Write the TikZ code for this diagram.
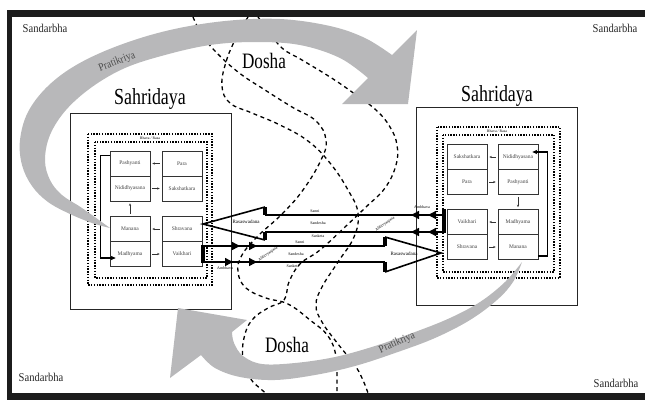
\documentclass[tikz,border=0pt]{standalone}
\usepackage{fontspec}
\setmainfont{Liberation Serif}
\newfontfamily\narrowserif[FakeStretch=0.78]{Liberation Serif}
\newfontfamily\midserif[FakeStretch=0.88]{Liberation Serif}
\usetikzlibrary{arrows.meta,decorations.markings}
\definecolor{bandgray}{RGB}{184,184,186}
\definecolor{framegray}{RGB}{28,28,28}
\begin{document}
\begin{tikzpicture}[x=1pt,y=-1pt,
  cell/.style={draw=black!80, line width=0.7pt, minimum width=40pt, minimum height=25pt,
    inner sep=0pt, font=\fontsize{5.5}{6}\selectfont, text=black!75},
  outerbox/.style={draw=black!85, line width=1pt},
  dotbox/.style={draw=black, line width=1.6pt, dash pattern=on 1.4pt off 1.4pt},
  inarrow/.style={draw=black!80, line width=0.5pt, shorten <=2pt, shorten >=2pt,
    -{Stealth[length=2.5pt,width=2.2pt]}},
  loopline/.style={draw=black, line width=1.4pt, -{Stealth[length=5pt,width=4.5pt]}},
  hollow/.style={draw=black, line width=1.6pt, line join=miter},
  bar/.style={draw=black, line width=3.5pt},
  shaft/.style={draw=black, line width=1.4pt},
  dosha/.style={draw=black, line width=1.3pt, dash pattern=on 4pt off 3.5pt},
  band/.style={fill=bandgray},
  tiny/.style={font=\fontsize{4}{4.5}\selectfont, inner sep=0.5pt},
  rasa/.style={font=\fontsize{5}{5.5}\selectfont, inner sep=0.5pt},
  ctx/.style={font=\midserif\fontsize{12}{12}\selectfont, text=black!85},
  bigname/.style={font=\narrowserif\fontsize{23}{23}\selectfont, anchor=base},
  flaw/.style={font=\narrowserif\fontsize{22}{22}\selectfont, anchor=base},
  reply/.style={font=\midserif\fontsize{11}{11}\selectfont, text=black!70},
  leftheads/.style={postaction={decorate, decoration={markings,
    mark=at position 16pt with {\arrow{Triangle[length=8pt,width=8pt]}},
    mark=at position 33pt with {\arrow{Triangle[length=8pt,width=8pt]}}}}},
  rightheadsA/.style={postaction={decorate, decoration={markings,
    mark=at position 37pt with {\arrow{Triangle[length=8pt,width=8pt]}},
    mark=at position 54pt with {\arrow{Triangle[length=8pt,width=8pt]}}}}},
  rightheadsB/.style={postaction={decorate, decoration={markings,
    mark=at position 30pt with {\arrow{Triangle[length=8pt,width=8pt]}},
    mark=at position 54pt with {\arrow{Triangle[length=8pt,width=8pt]}}}}}
]
\useasboundingbox (0,0) rectangle (645,400);

% ---- page frame ----
\fill[framegray] (7,10) rectangle (645,17);
\fill[framegray] (7,10) rectangle (12,400);
\fill[framegray] (7,393) rectangle (645,400);

% ---- Dosha: three dashed strands ----
\draw[dosha] plot[smooth, tension=0.7] coordinates {(193,17) (201,33) (214,50) (238,72) (265,90) (292,107) (316,121) (326,140) (321,160) (303,190) (282,214) (258,236) (242,255) (238,272) (246,288) (266,298) (288,304) (310,320) (328,336) (336,356) (337,378) (337,393)};
\draw[dosha] plot[smooth, tension=0.7] coordinates {(248,17) (236,38) (226,62) (222,86) (230,103) (252,113) (280,125) (308,141) (330,163) (348,190) (358,213) (354,237) (338,262) (322,287) (316,305) (322,322) (338,344) (354,364) (362,378) (368,393)};
\draw[dosha] plot[smooth, tension=0.7] coordinates {(258,17) (268,30) (282,48) (302,60) (330,77) (352,92) (376,110) (390,127) (397,145) (396,165) (385,188) (366,207) (345,227) (320,250) (300,264) (289,282) (284,300) (268,308) (252,320) (244,338) (243,360) (250,378) (262,390) (266,393)};

% ---- the two Sahridaya frames ----
\draw[outerbox] (70,113) rectangle (231,309);
\draw[outerbox] (416,107) rectangle (577,305);
\draw[dotbox] (88,134) rectangle (212,285);
\draw[dotbox] (95,142) rectangle (207,278);
\draw[dotbox] (437,127) rectangle (560,278);
\draw[dotbox] (443,135) rectangle (554,272);
\node[tiny, fill=white, font=\fontsize{3.8}{4}\selectfont] (LBR) at (150,138) {Bhava / Rasa};
\node[tiny, fill=white, font=\fontsize{3.8}{4}\selectfont] (RBR) at (497,131) {Bhava / Rasa};

% left stages
\node[cell] (LPa) at (130,163.5) {Pashyanti};
\node[cell] (LNi) at (130,188.5) {Nididhyasana};
\node[cell] (LPr) at (182,163.5) {Para};
\node[cell] (LSa) at (182,188.5) {Sakshatkara};
\node[cell] (LMa) at (130,229) {Manana};
\node[cell] (LMd) at (130,254) {Madhyama};
\node[cell] (LSh) at (182,229) {Shravana};
\node[cell] (LVa) at (182,254) {Vaikhari};
% right stages
\node[cell] (RSa) at (467,157) {Sakshatkara};
\node[cell] (RPr) at (467,182) {Para};
\node[cell] (RNi) at (518,157) {Nididhyasana};
\node[cell] (RPa) at (518,182) {Pashyanti};
\node[cell] (RVa) at (467,222) {Vaikhari};
\node[cell] (RSh) at (467,247) {Shravana};
\node[cell] (RMd) at (518,222) {Madhyama};
\node[cell] (RMn) at (518,247) {Manana};

% flow inside the left frame
\draw[inarrow] (LPr.west) -- (LPa.east);
\draw[inarrow] (LNi.east) -- (LSa.west);
\draw[inarrow] (LMa.north) -- (LNi.south);
\draw[inarrow] (LSh.west) -- (LMa.east);
\draw[inarrow] (LMd.east) -- (LVa.west);
\draw[loopline] ([yshift=8pt]LPa.west) -- ++(-9,0) |- ([yshift=-4pt,xshift=6pt]LMd.west);
% flow inside the right frame
\draw[inarrow] (RNi.west) -- (RSa.east);
\draw[inarrow] (RPr.east) -- (RPa.west);
\draw[inarrow] (RPa.south) -- (RMd.north);
\draw[inarrow] (RMd.west) -- (RVa.east);
\draw[inarrow] (RSh.east) -- (RMn.west);
\draw[loopline] ([yshift=-9pt]RMn.east) -- ++(9,0) |- ([yshift=5pt,xshift=-6pt]RNi.east);

% ---- exchange from the right speaker to the left listener ----
\coordinate (uTip) at (203,224);
\coordinate (uB1) at (265,207);
\coordinate (uS1) at (265,215);
\coordinate (uS2) at (265,232);
\coordinate (uB2) at (265,240);
\coordinate (uE1) at (444,215);
\coordinate (uE2) at (444,232);
\coordinate (rBarT) at (444,209);
\coordinate (rBarB) at (444,233);
\draw[bar] (rBarT) -- (rBarB);
\draw[shaft, leftheads] (uE1) -- (uS1);
\draw[shaft, leftheads] (uE2) -- (uS2);
\draw[bar] (uB1) -- (uS1);
\draw[bar] (uS2) -- (uB2);
\draw[hollow] (uB1) -- (uTip) -- (uB2);

% ---- exchange from the left speaker to the right listener ----
\coordinate (lBarT) at (203,245);
\coordinate (lBarB) at (203,263);
\coordinate (lS1) at (203,246);
\coordinate (lS2) at (203,262);
\coordinate (lH1) at (385,246);
\coordinate (lB1) at (385,237);
\coordinate (lH2) at (385,262);
\coordinate (lB2) at (385,272);
\coordinate (lTip) at (441,253);
\draw[bar] (lBarT) -- (lBarB);
\draw[shaft, rightheadsA] (lS1) -- (lH1);
\draw[shaft, rightheadsB] (lS2) -- (lH2);
\draw[bar] (lB1) -- (lH1);
\draw[bar] (lH2) -- (lB2);
\draw[hollow] (lB1) -- (lTip) -- (lB2);

% labels on the exchanges
\node[tiny] (amL) at (225,268) {Ambhava};
\node[tiny] (amR) at (422,207) {Ambhava};
\node[tiny] (sn1) at (315,211) {Sanni};
\node[tiny] (sd1) at (318,223.5) {Sandesha};
\node[tiny] (sk1) at (318,236) {Sanketa};
\node[tiny] (sn2) at (300,242) {Sanni};
\node[tiny] (sd2) at (296,254) {Sandesha};
\node[tiny] (sk2) at (293,266) {Sanketa};
\node[tiny, rotate=35] (ab1) at (385,224) {Abhivyanjana};
\node[tiny, rotate=35] (ab2) at (268,254) {Abhivyanjana};
\node[rasa] (ra1) at (246,222) {Rasaswadana};
\node[rasa] (ra2) at (404,254) {Rasaswadana};

% ---- Pratikriya bands ----
\fill[band] plot[smooth, tension=0.6] coordinates {(110,228) (92,223) (70,214) (48,202) (32,186) (22,165) (20,140) (28,112) (48,86) (78,64) (120,45) (170,30) (225,21) (280,19) (330,26) (365,38) (392,55)}
  -- (417,30) -- (408,104) -- (342,104) -- (368,78)
  -- plot[smooth, tension=0.6] coordinates {(368,78) (340,58) (300,45) (255,42) (210,45) (165,55) (125,68) (92,87) (66,110) (50,135) (45,160) (50,180) (62,195) (82,208) (110,228)}
  -- cycle;
\fill[band] plot[smooth, tension=0.6] coordinates {(522,262) (505,282) (480,302) (450,318) (415,332) (375,346) (335,357) (295,363) (262,364) (243,356) (234,343) (232,332)}
  -- (247,320) -- (178,308) -- (170,378) -- (201,355)
  -- plot[smooth, tension=0.6] coordinates {(201,355) (215,368) (240,377) (275,380) (315,375) (355,366) (395,353) (435,338) (470,320) (497,300) (513,282) (522,262)}
  -- cycle;
\node[reply, rotate=21] (pk1) at (117,62) {Pratikriya};
\node[reply, rotate=24] (pk2) at (397,343) {Pratikriya};

% ---- titles ----
\node[bigname] (sL) at (150,104) {Sahridaya};
\node[bigname] (sR) at (497,101) {Sahridaya};
\node[flaw] (d1) at (264,68) {Dosha};
\node[flaw] (d2) at (287,352) {Dosha};
\node[ctx] (c1) at (45,28) {Sandarbha};
\node[ctx] (c2) at (615,28) {Sandarbha};
\node[ctx] (c3) at (41,377) {Sandarbha};
\node[ctx] (c4) at (616,383) {Sandarbha};
\end{tikzpicture}
\end{document}
